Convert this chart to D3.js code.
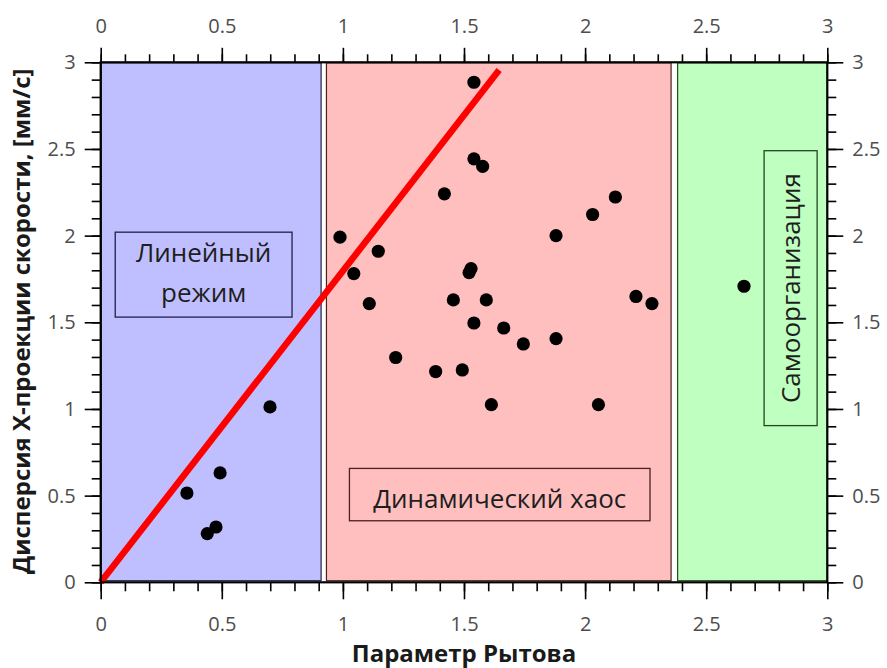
<!DOCTYPE html>
<html>
<head>
<meta charset="utf-8">
<script src="https://cdn.jsdelivr.net/npm/d3@7"></script>
<style>
  html, body { margin: 0; padding: 0; background: #fff; }
  svg { display: block; }
  text { font-family: "Open Sans", "DejaVu Sans", sans-serif; }
</style>
</head>
<body>
<svg id="chart" width="887" height="668"></svg>
<script>
// Measured points: Rytov parameter vs. X-velocity dispersion
const rytov = [0.356, 0.493, 0.699, 0.476, 0.440,
  1.541, 1.541, 1.577, 1.419, 2.125, 2.031, 1.880, 0.988, 1.146, 1.045,
  1.529, 1.521, 1.109, 1.456, 1.592, 2.210, 2.276, 1.541, 1.664, 1.745,
  1.880, 1.218, 1.383, 1.493, 1.613, 2.055,
  2.656];
const dispersion = [0.515, 0.631, 1.012, 0.319, 0.281,
  2.885, 2.443, 2.400, 2.241, 2.223, 2.122, 2.000, 1.991, 1.910, 1.781,
  1.810, 1.787, 1.608, 1.629, 1.629, 1.649, 1.608, 1.496, 1.467, 1.375,
  1.406, 1.297, 1.216, 1.225, 1.025, 1.025,
  1.708];

// Linear regime trend line (end points)
const trendX = [0, 1.645];
const trendY = [0, 2.955];

// Regime bands along the Rytov parameter axis
const regimeNames = ["Линейный режим", "Динамический хаос", "Самоорганизация"];
const regimeStart = [0, 0.93, 2.38];
const regimeEnd = [0.91, 2.355, 3];
const regimeFill = ["#bfbfff", "#ffbfbf", "#bfffbf"];
const regimeEdge = ["#20204a", "#4a2020", "#204a20"];

// Axis ticks
const majorTicks = [0, 0.5, 1, 1.5, 2, 2.5, 3];
const minorTicks = d3.range(0, 31).map(i => i / 10);

const xTitle = "Параметр Рытова";
const yTitle = "Дисперсия X-проекции скорости, [мм/с]";

const svg = d3.select("#chart");
const plotL = 100.7, plotR = 827.3, plotT = 62.3, plotB = 582.3;

const x = d3.scaleLinear().domain([0, 3]).range([plotL, plotR]);
const y = d3.scaleLinear().domain([0, 3]).range([plotB, plotT]);

// Regime bands
const bands = regimeStart.map((s, i) => ({ s, e: regimeEnd[i], fill: regimeFill[i], edge: regimeEdge[i] }));
svg.append("g").selectAll("rect").data(bands).join("rect")
  .attr("x", d => x(d.s) + 0.5)
  .attr("width", d => x(d.e) - x(d.s) - 0.5)
  .attr("y", y(3) + 0.5)
  .attr("height", y(0.012) - y(3))
  .attr("fill", d => d.fill)
  .attr("stroke", d => d.edge)
  .attr("stroke-width", 1.2);

// Label boxes inside the bands
function labelBox(x0, x1, y0, y1, edge) {
  svg.append("rect")
    .attr("x", x(x0)).attr("y", y(y1))
    .attr("width", x(x1) - x(x0)).attr("height", y(y0) - y(y1))
    .attr("fill", "none").attr("stroke", edge).attr("stroke-width", 1.3);
}
labelBox(0.06, 0.79, 1.53, 2.02, regimeEdge[0]);
labelBox(1.027, 2.268, 0.355, 0.657, regimeEdge[1]);
labelBox(2.739, 2.958, 0.904, 2.49, regimeEdge[2]);

const labelColor = "#1e1e1e";
const labelSize = 26;
svg.append("text")
  .attr("x", x(0.425)).attr("y", y(1.85))
  .attr("text-anchor", "middle").attr("font-size", labelSize).attr("fill", labelColor)
  .text("Линейный");
svg.append("text")
  .attr("x", x(0.425)).attr("y", y(1.62))
  .attr("text-anchor", "middle").attr("font-size", labelSize).attr("fill", labelColor)
  .text("режим");
svg.append("text")
  .attr("x", x(1.6475)).attr("y", y(0.43))
  .attr("text-anchor", "middle").attr("font-size", labelSize).attr("fill", labelColor)
  .text(regimeNames[1]);
svg.append("text")
  .attr("transform", `translate(${x(2.8485) + 9},${y(1.697)}) rotate(-90)`)
  .attr("text-anchor", "middle").attr("font-size", labelSize).attr("fill", labelColor)
  .text(regimeNames[2]);

// Trend line
const pts = trendX.map((v, i) => [v, trendY[i]]);
svg.append("path")
  .attr("d", d3.line().x(d => x(d[0])).y(d => y(d[1]))(pts))
  .attr("stroke", "#ff0000").attr("stroke-width", 6.5).attr("fill", "none");

// Data points
svg.append("g").selectAll("circle").data(rytov.map((v, i) => [v, dispersion[i]])).join("circle")
  .attr("cx", d => x(d[0])).attr("cy", d => y(d[1]))
  .attr("r", 6.6).attr("fill", "#000");

// Axes
const tickColor = "#000";
const labelGrey = "#4d4d4d";
function addAxis(axisFn, scale, transform, majorLen, minorLen, pad) {
  svg.append("g").attr("transform", transform)
    .call(axisFn(scale).tickValues(minorTicks).tickSize(minorLen).tickFormat(""))
    .call(g => g.select(".domain").remove())
    .call(g => g.selectAll("line").attr("stroke", tickColor).attr("stroke-width", 1.6));
  const g = svg.append("g").attr("transform", transform)
    .call(axisFn(scale).tickValues(majorTicks).tickSize(majorLen).tickPadding(pad)
      .tickFormat(d => d3.format("")(d)));
  g.select(".domain").remove();
  g.selectAll("line").attr("stroke", tickColor).attr("stroke-width", 1.6);
  g.selectAll("text").attr("fill", labelGrey).attr("font-size", 20)
    .attr("font-family", "\"Open Sans\", sans-serif");
  return g;
}
addAxis(d3.axisBottom, x, `translate(0,${plotB})`, 17, 9, 18);
addAxis(d3.axisTop, x, `translate(0,${plotT})`, 14.5, 8, 15);
addAxis(d3.axisLeft, y, `translate(${plotL},0)`, 16, 9, 9);
addAxis(d3.axisRight, y, `translate(${plotR},0)`, 16, 9, 9);

// Frame
svg.append("rect")
  .attr("x", plotL).attr("y", plotT)
  .attr("width", plotR - plotL).attr("height", plotB - plotT)
  .attr("fill", "none").attr("stroke", "#000").attr("stroke-width", 2.2);

// Axis titles
svg.append("text")
  .attr("x", (plotL + plotR) / 2).attr("y", 662)
  .attr("text-anchor", "middle").attr("font-size", 24).attr("font-weight", "bold")
  .attr("fill", "#1a1a1a").text(xTitle);
svg.append("text")
  .attr("transform", `translate(30,${(plotT + plotB) / 2 - 1}) rotate(-90)`)
  .attr("text-anchor", "middle").attr("font-size", 24).attr("font-weight", "bold")
  .attr("fill", "#1a1a1a").text(yTitle);
</script>
</body>
</html>
